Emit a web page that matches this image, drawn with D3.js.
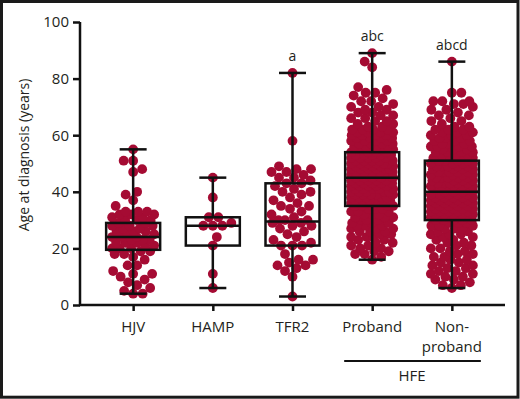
<!DOCTYPE html>
<html>
<head>
<meta charset="utf-8">
<script src="https://cdn.jsdelivr.net/npm/d3@7"></script>
<style>
  body { margin: 0; background: #fff; }
  text { font-family: "Open Sans", sans-serif; fill: #231f20; }
</style>
</head>
<body>
<svg id="chart" width="520" height="399"></svg>
<script>
// Categories and tick labels
const groups = ["HJV", "HAMP", "TFR2", "Proband", "Non-proband"];
const groupLines = [["HJV"], ["HAMP"], ["TFR2"], ["Proband"], ["Non-", "proband"]];
const sigLabels = ["", "", "a", "abc", "abcd"];
const yTicks = [0, 20, 40, 60, 80, 100];

// Individual ages (years)
const hjvAges = [55, 51, 51, 48, 47, 40, 39, 37, 35, 33, 33, 33, 32, 32, 32, 31, 31, 30, 30, 30,
  29, 29, 28, 28, 28, 27, 27, 26, 26, 26, 25, 25, 24, 24, 24, 23, 23, 23, 22, 22, 22, 21, 21,
  20, 20, 20, 19, 19, 18, 18, 17, 16, 14, 14, 12, 11, 11, 10, 9, 8, 7, 6, 5, 4, 4];
const hampAges = [45, 38, 31, 31, 29, 28, 28, 28, 24, 21, 11, 6];
const tfr2Ages = [82, 58, 49, 48, 48, 47, 47, 46, 45, 45, 44, 43, 43, 42, 41, 40, 40, 39, 38, 37,
  36, 35, 35, 34, 33, 32, 31, 30, 30, 30, 29, 29, 28, 28, 27, 26, 25, 24, 23, 22, 21, 21, 21,
  18, 16, 16, 15, 14, 14, 13, 12, 10, 3];
// Dense groups: [age, number of dots]
const probandCounts = [[16, 1], [17, 1], [18, 2], [19, 2], [20, 2], [21, 2], [22, 2], [23, 2],
  [24, 3], [25, 2], [26, 3], [27, 3], [28, 3], [29, 3], [30, 3], [31, 3], [32, 3], [33, 3], [34, 3],
  [35, 5], [36, 5], [37, 5], [38, 5], [39, 5], [40, 5], [41, 5], [42, 5], [43, 5], [44, 5],
  [45, 5], [46, 6], [47, 5], [48, 6], [49, 5], [50, 6], [51, 5], [52, 5], [53, 5],
  [54, 4], [55, 4], [56, 4], [57, 4], [58, 4], [59, 4], [60, 4], [61, 4], [62, 4],
  [63, 2], [64, 2], [65, 2], [66, 2], [67, 2], [68, 2], [69, 2], [70, 2], [71, 1], [72, 2], [73, 1],
  [74, 1], [75, 2], [76, 1], [77, 1], [84, 1], [86, 1], [89, 1]];
const nonProbandCounts = [[6, 1], [7, 2], [8, 1], [9, 2], [10, 2], [11, 2], [12, 2], [13, 2], [14, 2],
  [15, 2], [16, 2], [17, 2], [18, 2], [19, 2], [20, 2], [21, 2], [22, 2], [23, 2], [24, 2], [25, 3],
  [26, 2], [27, 3], [28, 3], [29, 3], [30, 5], [31, 5], [32, 5], [33, 5], [34, 5], [35, 5], [36, 5],
  [37, 5], [38, 5], [39, 5], [40, 4], [41, 5], [42, 4], [43, 5], [44, 4], [45, 5], [46, 4], [47, 5],
  [48, 4], [49, 5], [50, 4], [51, 4], [52, 4], [53, 3], [54, 4], [55, 3], [56, 4], [57, 3], [58, 3],
  [59, 3], [60, 3], [61, 3], [62, 3], [63, 2], [64, 1], [65, 2], [66, 1], [67, 2], [68, 1], [69, 2],
  [70, 1], [71, 2], [72, 3], [75, 2], [86, 1]];

// Box plot statistics
const boxMin = [4, 6, 3, 16, 6];
const boxQ1 = [19.5, 21, 21, 35, 30];
const boxMedian = [24, 28, 29.5, 45, 40];
const boxQ3 = [29, 31, 43, 54, 51];
const boxMax = [55, 45, 82, 89, 86];

const expand = counts => counts.flatMap(([age, n]) => Array(n).fill(age));
const groupAges = [hjvAges, hampAges, tfr2Ages, expand(probandCounts), expand(nonProbandCounts)];

const svg = d3.select("#chart");
const dotColor = "#a50b33";
const dotR = 4.9;
const minDist = 9.2;
const maxHalf = 21;

// Frame round the figure
svg.append("rect")
  .attr("x", 1.5).attr("y", 1.5)
  .attr("width", 516.5).attr("height", 395.7)
  .attr("fill", "none").attr("stroke", "#1a1a1a").attr("stroke-width", 3);

// Scales
const x = d3.scalePoint().domain(groups).range([80, 505]).padding(0.667);
const y = d3.scaleLinear().domain([0, 100]).range([305, 22]);

// Simple beeswarm: push each dot sideways until it clears its neighbours
function swarm(values, cx) {
  const placed = [];
  values.slice().sort((a, b) => a - b).forEach((v, i) => {
    const cy = y(v);
    const near = placed.filter(p => Math.abs(p.cy - cy) < minDist);
    const sign = i % 2 ? 1 : -1;
    let bestOff = 0, bestD = -1;
    for (let k = 0; k <= maxHalf * 4; k++) {
      const off = sign * (k % 2 ? 1 : -1) * Math.ceil(k / 2) * 0.5;
      if (Math.abs(off) > maxHalf) continue;
      let d = Infinity;
      near.forEach(p => {
        d = Math.min(d, Math.hypot(p.cx - (cx + off), p.cy - cy));
      });
      if (d >= minDist) { bestOff = off; break; }
      if (d > bestD) { bestD = d; bestOff = off; }
    }
    placed.push({ cx: cx + bestOff, cy });
  });
  return placed;
}

// Dots
const dotLayer = svg.append("g");
groups.forEach((g, i) => {
  dotLayer.selectAll(null)
    .data(swarm(groupAges[i], x(g)))
    .enter()
    .append("circle")
    .attr("cx", d => d.cx)
    .attr("cy", d => d.cy)
    .attr("r", dotR)
    .attr("fill", dotColor);
});

// Boxes and whiskers
const boxW = 54, capW = 27;
const boxLayer = svg.append("g")
  .attr("stroke", "#111").attr("stroke-width", 2.5).attr("fill", "none");
groups.forEach((g, i) => {
  const cx = x(g);
  boxLayer.append("line").attr("x1", cx).attr("x2", cx).attr("y1", y(boxQ3[i])).attr("y2", y(boxMax[i]));
  boxLayer.append("line").attr("x1", cx).attr("x2", cx).attr("y1", y(boxQ1[i])).attr("y2", y(boxMin[i]));
  boxLayer.append("line").attr("x1", cx - capW / 2).attr("x2", cx + capW / 2).attr("y1", y(boxMax[i])).attr("y2", y(boxMax[i]));
  boxLayer.append("line").attr("x1", cx - capW / 2).attr("x2", cx + capW / 2).attr("y1", y(boxMin[i])).attr("y2", y(boxMin[i]));
  boxLayer.append("rect")
    .attr("x", cx - boxW / 2).attr("y", y(boxQ3[i]))
    .attr("width", boxW).attr("height", y(boxQ1[i]) - y(boxQ3[i]));
  boxLayer.append("line").attr("x1", cx - boxW / 2).attr("x2", cx + boxW / 2).attr("y1", y(boxMedian[i])).attr("y2", y(boxMedian[i]));

  if (sigLabels[i]) {
    svg.append("text")
      .attr("x", cx).attr("y", y(boxMax[i]) - 12)
      .attr("text-anchor", "middle")
      .style("font-size", "14px")
      .text(sigLabels[i]);
  }
});

// Axes
const yAxis = svg.append("g")
  .attr("transform", "translate(80,0)")
  .call(d3.axisLeft(y).tickValues(yTicks).tickSize(7).tickSizeOuter(0).tickPadding(4));
const xAxis = svg.append("g")
  .attr("transform", "translate(0,305)")
  .call(d3.axisBottom(x).tickSize(6).tickSizeOuter(0).tickFormat(""));
[yAxis, xAxis].forEach(a => {
  a.selectAll("path, line").attr("stroke", "#111").attr("stroke-width", 2.5);
});
yAxis.select(".domain").attr("d", "M0,22V306");
xAxis.select(".domain").attr("d", "M79,0H505");
yAxis.selectAll("text").style("font-size", "15px").attr("fill", "#231f20");

// Category labels
groups.forEach((g, i) => {
  const t = svg.append("text")
    .attr("x", x(g)).attr("y", 332)
    .attr("text-anchor", "middle")
    .style("font-size", "15px");
  groupLines[i].forEach((line, j) => {
    t.append("tspan").attr("x", x(g)).attr("dy", j ? 19.5 : 0).text(line);
  });
});

// HFE bracket
svg.append("line")
  .attr("x1", x("Proband") - 28).attr("x2", x("Non-proband") + 29)
  .attr("y1", 361).attr("y2", 361)
  .attr("stroke", "#111").attr("stroke-width", 2);
svg.append("text")
  .attr("x", (x("Proband") + x("Non-proband")) / 2).attr("y", 381)
  .attr("text-anchor", "middle")
  .style("font-size", "15px")
  .text("HFE");

// Y axis title
svg.append("text")
  .attr("transform", "translate(29,155) rotate(-90)")
  .attr("text-anchor", "middle")
  .style("font-size", "14px")
  .text("Age at diagnosis (years)");
</script>
</body>
</html>
